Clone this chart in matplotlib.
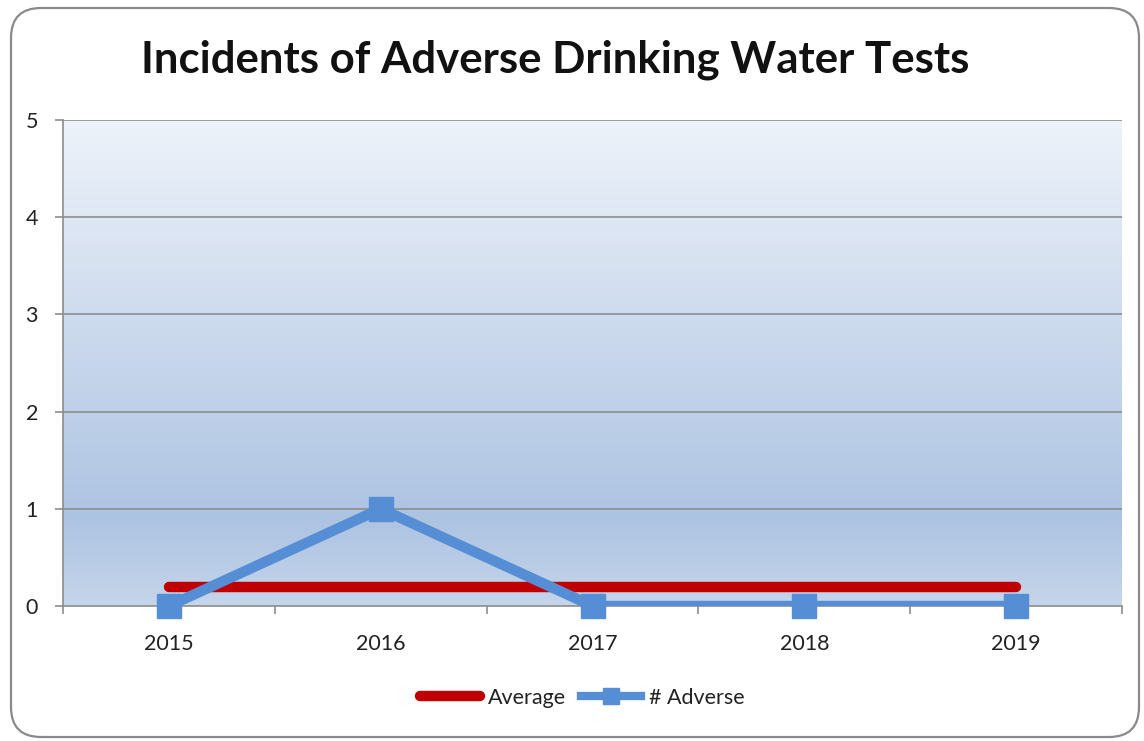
import matplotlib
matplotlib.use("Agg")
import matplotlib.pyplot as plt
import numpy as np
from matplotlib.patches import FancyBboxPatch
from matplotlib.lines import Line2D
from matplotlib.colors import LinearSegmentedColormap

# ---- data ----
years = ['2015', '2016', '2017', '2018', '2019']
adverse = [0, 1, 0, 0, 0]
average = [0.2, 0.2, 0.2, 0.2, 0.2]
y_ticks = [0, 1, 2, 3, 4, 5]
title = 'Incidents of Adverse Drinking Water Tests'

plt.rcParams['font.family'] = ['Lato', 'DejaVu Sans']

W, H = 1144, 741
fig = plt.figure(figsize=(W / 100, H / 100), dpi=100)
fig.patch.set_facecolor('white')

# background frame with rounded corners (pixel coordinates)
bg = fig.add_axes([0, 0, 1, 1], zorder=-5)
bg.set_xlim(0, W)
bg.set_ylim(H, 0)
bg.axis('off')
frame = FancyBboxPatch((11, 8), 1128, 729, boxstyle='round,pad=0,rounding_size=30',
                       facecolor='white', edgecolor='#8a8a8a', linewidth=1.6)
bg.add_patch(frame)

# main axes
left, right, top, bottom = 63, 1122, 120, 606
ax = fig.add_axes([left / W, 1 - bottom / H, (right - left) / W, (bottom - top) / H])
ax.set_facecolor('none')
x = np.arange(len(years))
ax.set_xlim(-0.5, len(years) - 0.5)
ax.set_ylim(0, 5)

# gradient fill
cmap = LinearSegmentedColormap.from_list('g', [(0.0, '#eef3fa'), (0.82, '#adc3e2'), (1.0, '#c5d5ea')])
grad = np.linspace(0, 1, 256).reshape(-1, 1)
ax.imshow(grad, cmap=cmap, aspect='auto', extent=(-0.5, len(years) - 0.5, 0, 5),
          origin='upper', zorder=0, interpolation='bicubic')

# gridlines
for yv in y_ticks[1:]:
    ax.axhline(yv, color='#8c8c8c', lw=1.2, zorder=1)

# series
ax.plot(x, average, color='#c00000', lw=7.5, solid_capstyle='round', zorder=3)
ax.plot(x, adverse, color='#558ed5', lw=7.5, solid_capstyle='butt', solid_joinstyle='miter', zorder=4)
ax.plot(x, adverse, ls='none', marker='s', ms=17, color='#558ed5', clip_on=False, zorder=5)

# spines
for s in ['top', 'right']:
    ax.spines[s].set_visible(False)
for s in ['left', 'bottom']:
    ax.spines[s].set_color('#8c8c8c')
    ax.spines[s].set_linewidth(1.2)

ax.set_yticks(y_ticks)
ax.set_yticklabels([str(v) for v in y_ticks])
ax.set_xticks(x)
ax.set_xticklabels(years)
ax.set_xticks(np.arange(-0.5, len(years)), minor=True)
ax.tick_params(axis='x', which='major', length=0, pad=20, labelsize=15.5, labelcolor='#222222')
ax.tick_params(axis='x', which='minor', length=6, width=1.2, color='#8c8c8c', direction='out')
ax.tick_params(axis='y', length=6, width=1.2, color='#8c8c8c', direction='out', pad=12,
               labelsize=15.5, labelcolor='#222222')

fig.text(555 / W, 1 - 60 / H, title, ha='center', va='center', fontsize=31.5,
         fontweight='bold', color='#111111')

handles = [
    Line2D([], [], color='#c00000', lw=7.5, solid_capstyle='round'),
    Line2D([], [], color='#558ed5', lw=6, marker='s', ms=12),
]
fig.legend(handles, ['Average', '# Adverse'], loc='center', bbox_to_anchor=(582 / W, 1 - 698 / H),
           ncol=2, frameon=False, fontsize=15.5, handlelength=2.8, handletextpad=0.35,
           columnspacing=0.7, labelcolor='#222222')

fig.savefig('out.png', dpi=100)
